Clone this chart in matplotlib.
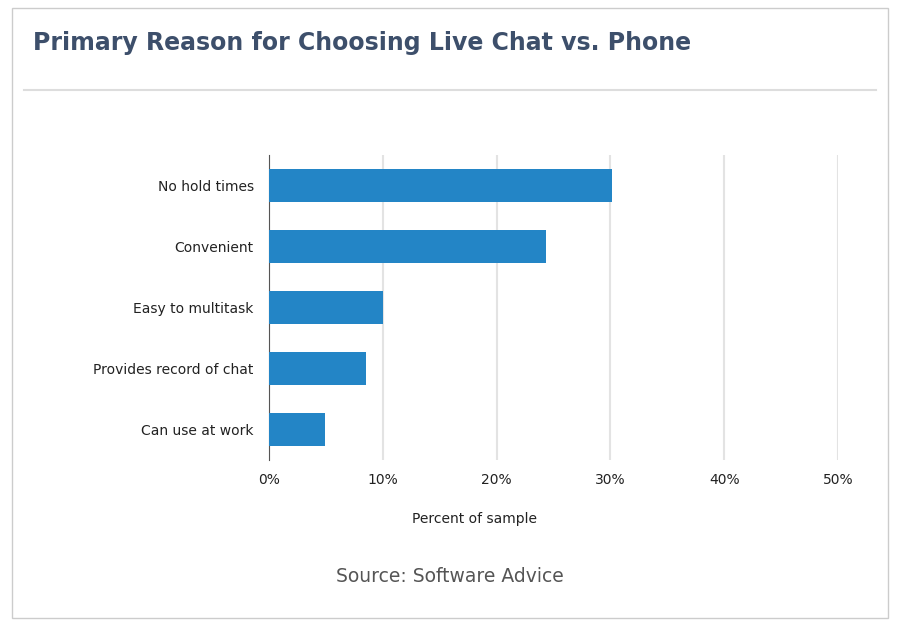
import matplotlib
matplotlib.use("Agg")
import matplotlib.pyplot as plt
from matplotlib.patches import Rectangle
from matplotlib.lines import Line2D

categories = ["No hold times", "Convenient", "Easy to multitask", "Provides record of chat", "Can use at work"]
values = [30.1, 24.3, 10.0, 8.5, 4.9]
ticks = [0, 10, 20, 30, 40, 50]
tick_labels = ["0%", "10%", "20%", "30%", "40%", "50%"]

fig = plt.figure(figsize=(9, 6.29), dpi=100)
fig.patches.append(Rectangle((12/900, 1-618/629), 876/900, 610/629, transform=fig.transFigure,
                             fill=False, edgecolor="#cccccc", linewidth=1))
fig.lines.append(Line2D([24/900, 876/900], [1-90/629]*2, transform=fig.transFigure, color="#dddddd", linewidth=1.5))
fig.text(33/900, 1-43/629, "Primary Reason for Choosing Live Chat vs. Phone", fontsize=17,
         fontweight="bold", color="#3d4f6b", va="center", ha="left")
fig.text(450/900, 1-576/629, "Source: Software Advice", fontsize=13.5, color="#555555", ha="center", va="center")

ax = fig.add_axes([269/900, 1-460/629, 569/900, 305/629])
y = list(range(len(categories)))
ax.barh(y, values, height=0.53, color="#2385c6", zorder=3)
ax.set_ylim(len(categories)-0.5, -0.5)
ax.set_xlim(0, 50)
ax.set_yticks(y)
ax.set_yticklabels(categories, fontsize=10, color="#222222")
ax.set_xticks(ticks)
ax.set_xticklabels(tick_labels, fontsize=10, color="#222222")
ax.tick_params(axis="x", length=0, pad=9)
ax.tick_params(axis="y", length=0, pad=11)
ax.grid(axis="x", color="#e3e3e3", linewidth=1.5, zorder=0)
for s in ["top", "right", "bottom"]:
    ax.spines[s].set_visible(False)
ax.spines["left"].set_color("#555555")
ax.set_xlabel("Percent of sample", fontsize=10, color="#222222", labelpad=14)
ax.xaxis.set_label_coords(0.362, -0.17)
fig.savefig("out.png", dpi=100)
